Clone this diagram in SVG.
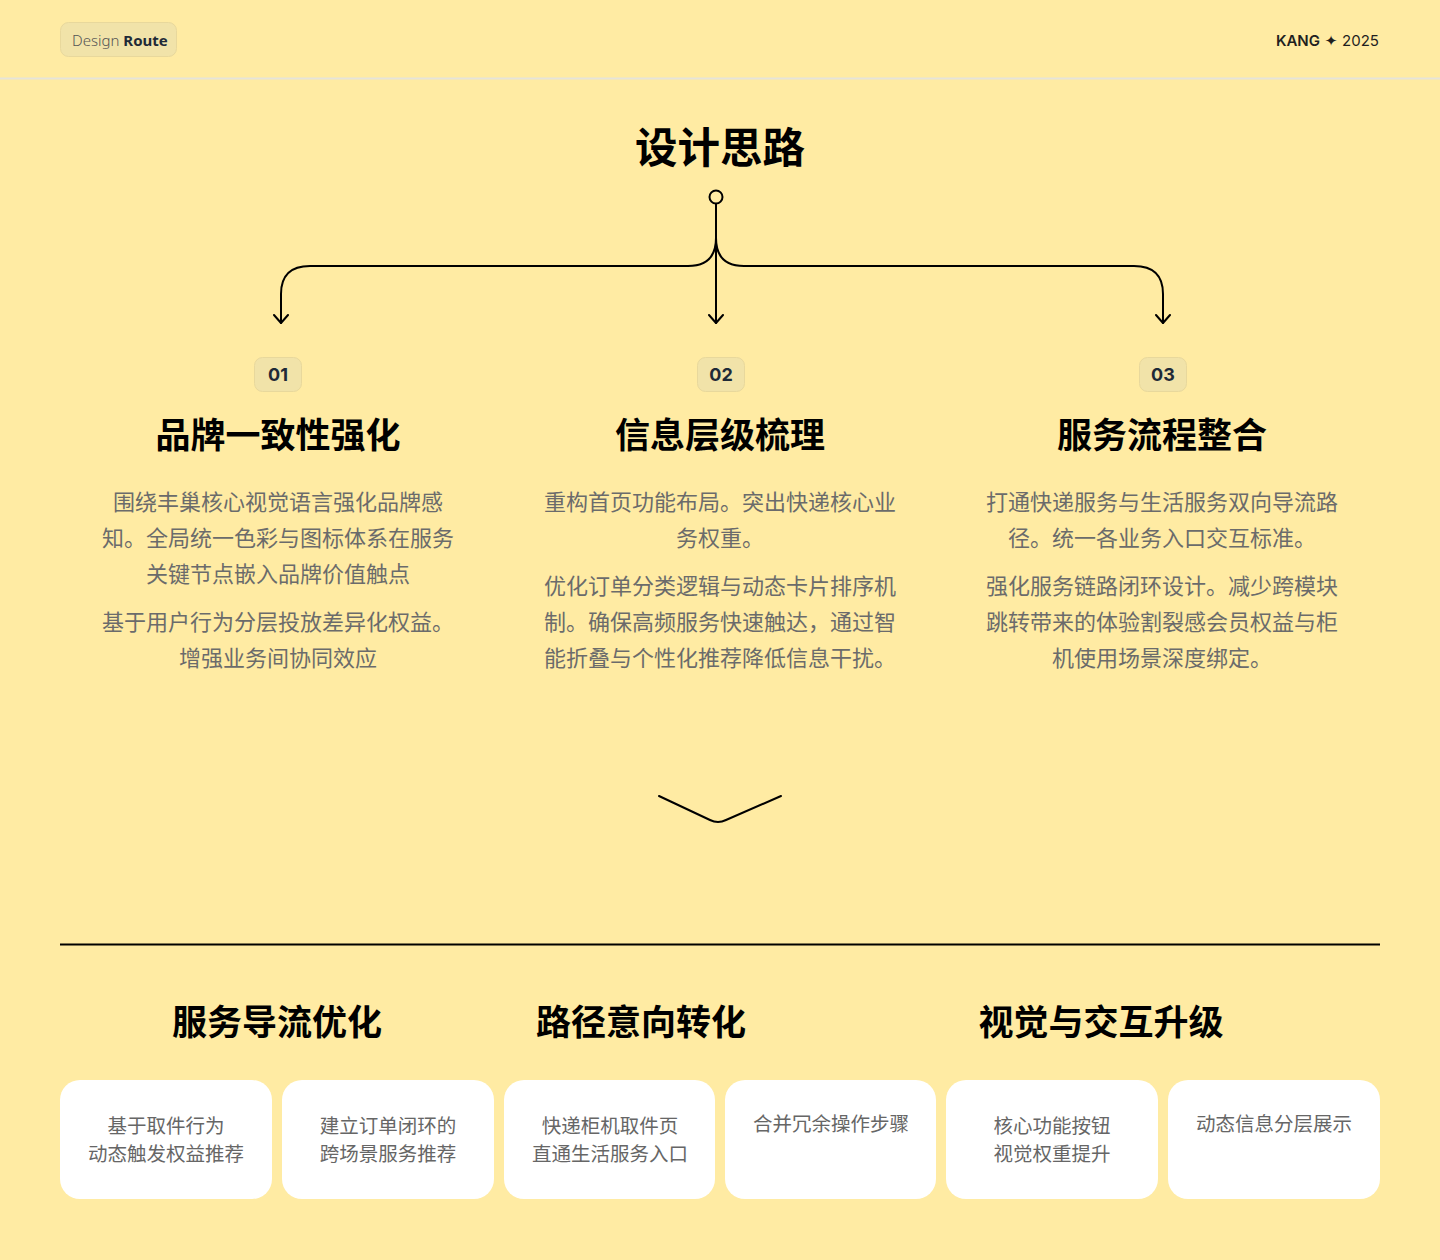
<svg xmlns="http://www.w3.org/2000/svg" width="1440" height="1260" viewBox="0 0 1440 1260">
<defs>
<style>
.cjk{font-family:"Noto Sans CJK SC","Noto Sans",sans-serif}
.title{font-size:42.5px;font-weight:700;fill:#000;text-anchor:middle}
.h{font-size:35px;font-weight:700;fill:#000;text-anchor:middle}
.p{font-size:22px;fill:#6b6b6b;text-anchor:middle}
.c{font-size:19.5px;fill:#666;text-anchor:middle}
.num{font-family:Inter,"Noto Sans",sans-serif;font-size:18px;font-weight:700;fill:#1f2a37;text-anchor:middle}
.tag{fill:#F1E3A9;stroke:#E8D89C;stroke-width:1}
.card{fill:#fff}
.ln{fill:none;stroke:#000;stroke-width:2;stroke-linecap:round;stroke-linejoin:round}
</style>
<marker id="arr" viewBox="0 0 10 16" refX="9" refY="8" markerWidth="10" markerHeight="16" markerUnits="userSpaceOnUse" orient="auto">
<path d="M1,1 L9,8 L1,15" fill="none" stroke="#000" stroke-width="2" stroke-linecap="round" stroke-linejoin="round"/>
</marker>
</defs>
<rect width="1440" height="1260" fill="#FFEBA3"/>
<line x1="0" y1="78.5" x2="1440" y2="78.5" stroke="#E6E4DA" stroke-width="2"/>

<g id="header-badge">
<rect class="tag" x="60.5" y="22.5" width="116" height="34" rx="8"/>
<text x="72" y="46" font-family="'Noto Sans',Inter,sans-serif" font-size="15" fill="#555"><tspan font-weight="300">Design </tspan><tspan font-weight="700" fill="#1f2a37">Route</tspan></text>
</g>
<g id="header-right">
<text x="1379" y="46" font-family="Inter,'DejaVu Sans',sans-serif" font-size="15" fill="#1f1f1f" text-anchor="end"><tspan font-weight="600">KANG</tspan><tspan font-family="'DejaVu Sans',sans-serif"> ✦ </tspan><tspan>2025</tspan></text>
</g>

<g id="title">
<text class="cjk title" x="720" y="163">设计思路</text>
</g>

<g id="connectors">
<circle cx="716" cy="197" r="6.5" fill="none" stroke="#000" stroke-width="2"/>
<path class="ln" d="M716,204 L716,323" marker-end="url(#arr)"/>
<path class="ln" d="M716,238 Q716,266 688,266 L310,266 Q281,266 281,294 L281,323" marker-end="url(#arr)"/>
<path class="ln" d="M716,238 Q716,266 744,266 L1134,266 Q1163,266 1163,294 L1163,323" marker-end="url(#arr)"/>
<path class="ln" d="M659,796 L710,820 Q718,824 726,820 L781,796"/>
<line x1="60" y1="944.5" x2="1380" y2="944.5" stroke="#000" stroke-width="2"/>
</g>

<g id="node-01">
<rect class="tag" x="254.5" y="357.5" width="47" height="34" rx="8"/>
<text class="num" x="278" y="381">01</text>
<text class="cjk h" x="278" y="448">品牌一致性强化</text>
<text class="cjk p" x="278" y="510">围绕丰巢核心视觉语言强化品牌感</text>
<text class="cjk p" x="278" y="546">知。全局统一色彩与图标体系在服务</text>
<text class="cjk p" x="278" y="582">关键节点嵌入品牌价值触点</text>
<text class="cjk p" x="278" y="630">基于用户行为分层投放差异化权益。</text>
<text class="cjk p" x="278" y="666">增强业务间协同效应</text>
</g>

<g id="node-02">
<rect class="tag" x="697.5" y="357.5" width="47" height="34" rx="8"/>
<text class="num" x="721" y="381">02</text>
<text class="cjk h" x="720" y="448">信息层级梳理</text>
<text class="cjk p" x="720" y="510">重构首页功能布局。突出快递核心业</text>
<text class="cjk p" x="720" y="546">务权重。</text>
<text class="cjk p" x="720" y="594">优化订单分类逻辑与动态卡片排序机</text>
<text class="cjk p" x="720" y="630">制。确保高频服务快速触达，通过智</text>
<text class="cjk p" x="720" y="666">能折叠与个性化推荐降低信息干扰。</text>
</g>

<g id="node-03">
<rect class="tag" x="1139.5" y="357.5" width="47" height="34" rx="8"/>
<text class="num" x="1163" y="381">03</text>
<text class="cjk h" x="1162" y="448">服务流程整合</text>
<text class="cjk p" x="1162" y="510">打通快递服务与生活服务双向导流路</text>
<text class="cjk p" x="1162" y="546">径。统一各业务入口交互标准。</text>
<text class="cjk p" x="1162" y="594">强化服务链路闭环设计。减少跨模块</text>
<text class="cjk p" x="1162" y="630">跳转带来的体验割裂感会员权益与柜</text>
<text class="cjk p" x="1162" y="666">机使用场景深度绑定。</text>
</g>

<g id="group-1">
<text class="cjk h" x="277" y="1035">服务导流优化</text>
</g>
<g id="group-2">
<text class="cjk h" x="641" y="1035">路径意向转化</text>
</g>
<g id="group-3">
<text class="cjk h" x="1101" y="1035">视觉与交互升级</text>
</g>

<g id="card-1">
<rect class="card" x="60" y="1080" width="212" height="119" rx="20"/>
<text class="cjk c" x="166" y="1133">基于取件行为</text>
<text class="cjk c" x="166" y="1161">动态触发权益推荐</text>
</g>
<g id="card-2">
<rect class="card" x="282" y="1080" width="212" height="119" rx="20"/>
<text class="cjk c" x="388" y="1133">建立订单闭环的</text>
<text class="cjk c" x="388" y="1161">跨场景服务推荐</text>
</g>
<g id="card-3">
<rect class="card" x="504" y="1080" width="211" height="119" rx="20"/>
<text class="cjk c" x="610" y="1133">快递柜机取件页</text>
<text class="cjk c" x="610" y="1161">直通生活服务入口</text>
</g>
<g id="card-4">
<rect class="card" x="725" y="1080" width="211" height="119" rx="20"/>
<text class="cjk c" x="831" y="1131">合并冗余操作步骤</text>
</g>
<g id="card-5">
<rect class="card" x="946" y="1080" width="212" height="119" rx="20"/>
<text class="cjk c" x="1052" y="1133">核心功能按钮</text>
<text class="cjk c" x="1052" y="1161">视觉权重提升</text>
</g>
<g id="card-6">
<rect class="card" x="1168" y="1080" width="212" height="119" rx="20"/>
<text class="cjk c" x="1274" y="1131">动态信息分层展示</text>
</g>
</svg>
